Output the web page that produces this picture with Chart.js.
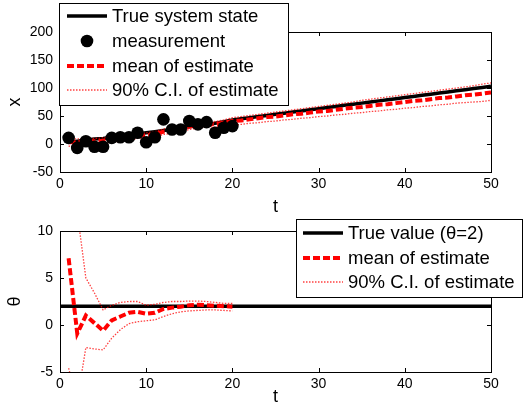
<!DOCTYPE html>
<html>
<head>
<meta charset="utf-8">
<script src="https://cdn.jsdelivr.net/npm/chart.js@4.4.1/dist/chart.umd.min.js"></script>
<style>
body { margin: 0; background: #fff; width: 525px; height: 410px; overflow: hidden; position: relative; }
canvas { position: absolute; left: 0; }
#topChart { top: 0; }
#bottomChart { top: 212px; }
</style>
</head>
<body>
<canvas id="topChart" width="525" height="220"></canvas>
<canvas id="bottomChart" width="525" height="198"></canvas>
<script>
// time axes
const tAll = [1,2,3,4,5,6,7,8,9,10,11,12,13,14,15,16,17,18,19,20,21,22,23,24,25,26,27,28,29,30,31,32,33,34,35,36,37,38,39,40,41,42,43,44,45,46,47,48,49,50];
const tMeas = [1,2,3,4,5,6,7,8,9,10,11,12,13,14,15,16,17,18,19,20];

// top panel: state x
const xTrue = [3,5,7,9,10,12,14,16,18,20,22,24,26,28,31,33,35,37,40,43,45,47,49,51,53,55,57,59,61,63,65,67,69,71,73,75,77,79,81,83,85,87,89,91,93,95,97,99,101,103];
const xMeas = [11,-7,5,-5,-5,11,12,12,20,3,12,44,26,26,41,35,39,20,29,32];
const xMean = [3,3,5,5,6,8,10,12,15,15,17,22,24,26,31,33,36,35,38,41,42,44,46,48,49,51,53,54,56,58,59,61,63,65,66,68,70,71,73,75,77,78,80,82,83,85,87,88,90,92];
const xUpper = [10,9,10,10,11,13,15,17,20,20,22,27,29,31,36,38,41,40,43,47,49,51,53,55,57,59,61,63,65,67,69,71,73,75,78,80,82,84,86,88,90,92,94,96,98,100,102,104,107,109];
const xLower = [-4,-3,0,0,1,3,5,7,10,10,12,17,19,21,26,28,31,30,33,34,35,37,38,40,41,43,44,46,47,49,50,52,53,55,56,58,59,61,62,64,65,67,68,70,71,73,74,75,76,78];

// bottom panel: parameter theta
const tTheta = [0,50];
const thetaTrue = [2,2];
const thetaMean = [7.1,-0.9,1.0,0.2,-0.6,0.5,0.9,1.3,1.4,1.2,1.3,1.7,1.85,1.95,2.1,2.15,2.1,2.05,2.0,1.95];
const thetaUpper = [20,12,5.0,3.4,1.6,2.1,2.4,2.5,2.5,2.1,2.2,2.4,2.5,2.5,2.55,2.55,2.5,2.4,2.3,2.3];
const thetaLower = [-4.6,-8,-2.4,-2.55,-2.65,-1.4,-0.5,0.15,0.35,0.45,0.55,0.9,1.2,1.4,1.5,1.55,1.6,1.6,1.55,1.5];

const xTicks = { min: 0, max: 50, step: 10 };
const FONT = '"Liberation Sans", Arial, sans-serif';

function pts(ts, vs) {
    return vs.map((v, i) => ({ x: ts[i], y: v }));
}

// matlab style box with inward ticks + boxed legend
const matlabPlugin = {
    id: 'matlabBox',
    afterDatasetsDraw(chart) {
        const { ctx, chartArea: a, scales } = chart;
        const len = 4;
        ctx.save();
        ctx.strokeStyle = '#000';
        ctx.lineWidth = 1;
        ctx.strokeRect(Math.round(a.left) + 0.5, Math.round(a.top) + 0.5, Math.round(a.right - a.left), Math.round(a.bottom - a.top));
        ctx.beginPath();
        scales.x.ticks.forEach(t => {
            const px = Math.round(scales.x.getPixelForValue(t.value)) + 0.5;
            ctx.moveTo(px, a.bottom); ctx.lineTo(px, a.bottom - len);
            ctx.moveTo(px, a.top); ctx.lineTo(px, a.top + len);
        });
        scales.y.ticks.forEach(t => {
            const py = Math.round(scales.y.getPixelForValue(t.value)) + 0.5;
            ctx.moveTo(a.left, py); ctx.lineTo(a.left + len, py);
            ctx.moveTo(a.right, py); ctx.lineTo(a.right - len, py);
        });
        ctx.stroke();
        ctx.restore();
    },
    afterDraw(chart, args, opts) {
        if (!opts || !opts.box) return;
        const { ctx } = chart;
        const [bx, by, bw, bh] = opts.box;
        ctx.save();
        ctx.fillStyle = '#fff';
        ctx.fillRect(bx, by, bw, bh);
        ctx.strokeStyle = '#000';
        ctx.lineWidth = 1;
        ctx.strokeRect(bx + 0.5, by + 0.5, bw, bh);
        opts.items.forEach((di, k) => {
            const ds = chart.data.datasets[di];
            const y = opts.rows[k];
            const [x0, x1] = opts.lineX;
            if (ds.showLine === false) {
                ctx.beginPath();
                ctx.fillStyle = ds.pointBackgroundColor;
                ctx.arc((x0 + x1) / 2, y, ds.pointRadius, 0, Math.PI * 2);
                ctx.fill();
            } else {
                ctx.beginPath();
                ctx.strokeStyle = ds.borderColor;
                ctx.lineWidth = ds.borderWidth;
                ctx.setLineDash(ds.borderDash || []);
                ctx.moveTo(x0, y); ctx.lineTo(x1, y);
                ctx.stroke();
                ctx.setLineDash([]);
            }
            ctx.fillStyle = '#000';
            ctx.font = '18.5px ' + FONT;
            ctx.textBaseline = 'middle';
            ctx.textAlign = 'left';
            ctx.fillText(ds.label, opts.textX, y + 1);
        });
        ctx.restore();
    }
};

function axisOpts(min, max, step, title, isX, fitSize) {
    return {
        type: 'linear',
        min: min, max: max,
        ticks: { stepSize: step, color: '#000', font: { size: 14, family: FONT }, padding: isX ? 4 : 7 },
        grid: { display: false, drawTicks: false },
        border: { display: false },
        title: { display: true, text: title, color: '#000', font: { size: 18, family: FONT }, padding: isX ? { top: 0, bottom: 2 } : { top: 4, bottom: 4 } },
        afterFit(s) { if (isX) s.height = fitSize; else s.width = fitSize; }
    };
}

const ciColor = 'rgba(255,0,0,0.75)';

new Chart(document.getElementById('topChart'), {
    type: 'line',
    data: {
        datasets: [
            { label: 'True system state', data: pts(tAll, xTrue), borderColor: '#000', borderWidth: 3.5, pointRadius: 0, order: 3 },
            { label: 'measurement', data: pts(tMeas, xMeas), showLine: false, pointRadius: 6.3, pointBackgroundColor: '#000', pointBorderColor: '#000', pointBorderWidth: 0, order: 0 },
            { label: 'mean of estimate', data: pts(tAll, xMean), borderColor: '#f00', borderWidth: 4, borderDash: [7, 3], pointRadius: 0, order: 1 },
            { label: '90% C.I. of estimate', data: pts(tAll, xUpper), borderColor: ciColor, borderWidth: 1.3, borderDash: [1.5, 1.5], pointRadius: 0, order: 2 },
            { label: '90% C.I. lower', data: pts(tAll, xLower), borderColor: ciColor, borderWidth: 1.3, borderDash: [1.5, 1.5], pointRadius: 0, order: 2 }
        ]
    },
    options: {
        responsive: false,
        animation: false,
        devicePixelRatio: 1,
        layout: { padding: { left: 0, right: 34, top: 32, bottom: 0 } },
        scales: {
            x: axisOpts(xTicks.min, xTicks.max, xTicks.step, 't', true, 48),
            y: axisOpts(-50, 200, 50, 'x', false, 60)
        },
        plugins: {
            legend: { display: false },
            tooltip: { enabled: false },
            matlabBox: { box: [59, 3, 229, 102], rows: [16, 41, 66, 90], lineX: [67, 107], textX: 112, items: [0, 1, 2, 3] }
        }
    },
    plugins: [matlabPlugin]
});

new Chart(document.getElementById('bottomChart'), {
    type: 'line',
    data: {
        datasets: [
            { label: 'True value (\u03b8=2)', data: pts(tTheta, thetaTrue), borderColor: '#000', borderWidth: 3.5, pointRadius: 0, order: 3 },
            { label: 'mean of estimate', data: pts(tMeas, thetaMean), borderColor: '#f00', borderWidth: 4, borderDash: [7, 3], pointRadius: 0, order: 1 },
            { label: '90% C.I. of estimate', data: pts(tMeas, thetaUpper), borderColor: ciColor, borderWidth: 1.3, borderDash: [1.5, 1.5], pointRadius: 0, order: 2 },
            { label: '90% C.I. lower', data: pts(tMeas, thetaLower), borderColor: ciColor, borderWidth: 1.3, borderDash: [1.5, 1.5], pointRadius: 0, order: 2 }
        ]
    },
    options: {
        responsive: false,
        animation: false,
        devicePixelRatio: 1,
        layout: { padding: { left: 0, right: 34, top: 19, bottom: 0 } },
        scales: {
            x: axisOpts(xTicks.min, xTicks.max, xTicks.step, 't', true, 38),
            y: axisOpts(-5, 10, 5, '\u03b8', false, 60)
        },
        plugins: {
            legend: { display: false },
            tooltip: { enabled: false },
            matlabBox: { box: [296, 7, 226, 78], rows: [21, 46, 70], lineX: [303, 343], textX: 348, items: [0, 1, 2] }
        }
    },
    plugins: [matlabPlugin]
});
</script>
</body>
</html>
